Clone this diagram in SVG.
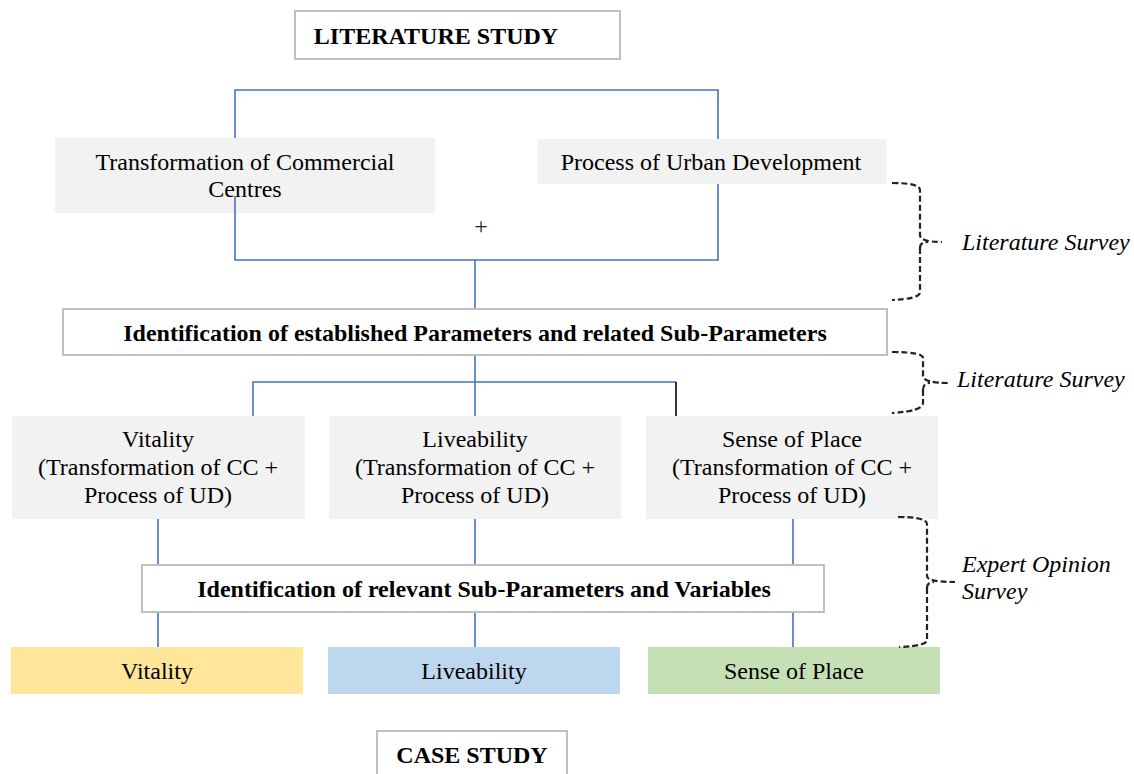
<svg xmlns="http://www.w3.org/2000/svg" width="1134" height="774" viewBox="0 0 1134 774">
<style>
.t{font-family:"Liberation Serif","Times New Roman",serif;font-size:24px;fill:#000;text-anchor:middle}
.b{font-weight:bold}
.i{font-style:italic;text-anchor:start}
.blue{stroke:#4472c4;stroke-width:1.6;fill:none}
.brace{stroke:#222;stroke-width:2.2;fill:none;stroke-dasharray:6 3}
.wbox{fill:#fff;stroke:#bfbfbf;stroke-width:2}
.gbox{fill:#f2f2f2}
</style>
<g id="connectors">
<path class="blue" d="M235 140 V90 H718 V140 M718 184 V260 H235 V196 M475 260 V309"/>
<path class="blue" d="M475 355 V416 M253 416 V382 H676"/>
<path d="M676 382 V416" stroke="#000" stroke-width="1.6"/>
<path class="blue" d="M158 519 V565 M475 519 V565 M793 519 V565 M158 612 V647 M475 612 V647 M793 612 V647"/>
</g>
<g id="literature-study">
<rect class="wbox" x="295" y="11" width="325" height="48"/>
<text class="t b" x="436" y="44">LITERATURE STUDY</text>
</g>
<g id="transformation">
<rect class="gbox" x="55" y="138" width="380" height="75"/>
<text class="t" x="245" y="170">Transformation of Commercial</text>
<text class="t" x="245" y="197">Centres</text>
<path class="blue" d="M235 196 V213"/>
</g>
<g id="process">
<rect class="gbox" x="537" y="139" width="350" height="45"/>
<text class="t" x="711" y="170">Process of Urban Development</text>
</g>
<g id="plus"><text class="t" x="481" y="234" style="font-size:24px;fill:#222">+</text></g>
<g id="ident-established">
<rect class="wbox" x="63" y="309" width="824" height="46"/>
<text class="t b" x="475" y="341">Identification of established Parameters and related Sub-Parameters</text>
</g>
<g id="vitality-1">
<rect class="gbox" x="12" y="416" width="293" height="103"/>
<text class="t" x="158" y="447">Vitality</text>
<text class="t" x="158" y="475">(Transformation of CC +</text>
<text class="t" x="158" y="503">Process of UD)</text>
</g>
<g id="liveability-1">
<rect class="gbox" x="329" y="416" width="292" height="103"/>
<text class="t" x="475" y="447">Liveability</text>
<text class="t" x="475" y="475">(Transformation of CC +</text>
<text class="t" x="475" y="503">Process of UD)</text>
</g>
<g id="sense-1">
<rect class="gbox" x="646" y="416" width="292" height="103"/>
<text class="t" x="792" y="447">Sense of Place</text>
<text class="t" x="792" y="475">(Transformation of CC +</text>
<text class="t" x="792" y="503">Process of UD)</text>
</g>
<g id="ident-relevant">
<rect class="wbox" x="142" y="565" width="682" height="47"/>
<text class="t b" x="484" y="597">Identification of relevant Sub-Parameters and Variables</text>
</g>
<g id="vitality-2">
<rect x="11" y="647" width="292" height="47" fill="#ffe699"/>
<text class="t" x="157" y="679">Vitality</text>
</g>
<g id="liveability-2">
<rect x="328" y="647" width="292" height="47" fill="#bdd7ee"/>
<text class="t" x="474" y="679">Liveability</text>
</g>
<g id="sense-2">
<rect x="648" y="647" width="292" height="47" fill="#c5e0b4"/>
<text class="t" x="794" y="679">Sense of Place</text>
</g>
<g id="case-study">
<rect class="wbox" x="377" y="731" width="190" height="50"/>
<text class="t b" x="472" y="763">CASE STUDY</text>
</g>
<g id="brace-1">
<path class="brace" d="M892 183 Q920 183 920 190 V235 Q920 242 942 242 M920 248 Q920 242 928 242 M920 248 V292 Q920 299 892 300"/>
<text class="t i" x="962" y="250">Literature Survey</text>
</g>
<g id="brace-2">
<path class="brace" d="M892 352 Q923 352 923 358 V376 Q923 383 950 383 M923 390 Q923 383 930 383 M923 390 V403 Q923 411 892 413"/>
<text class="t i" x="957" y="387">Literature Survey</text>
</g>
<g id="brace-3">
<path class="brace" d="M898 517 Q927 517 927 524 V576 Q927 582 955 582 M927 588 Q927 582 934 582 M927 588 V640 Q927 646 899 647"/>
<text class="t i" x="962" y="572">Expert Opinion</text>
<text class="t i" x="962" y="599">Survey</text>
</g>
</svg>
